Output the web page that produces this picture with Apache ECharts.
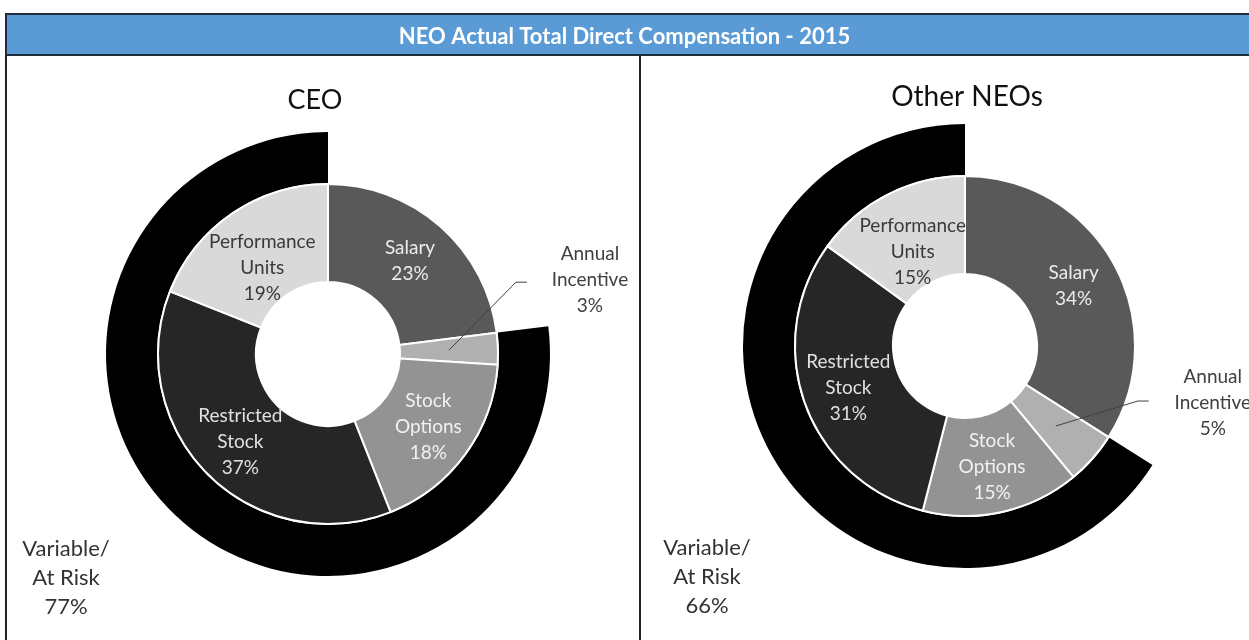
<!DOCTYPE html>
<html>
<head>
<meta charset="utf-8">
<script src="https://cdn.jsdelivr.net/npm/echarts@6/dist/echarts.min.js"></script>
<style>
  html, body { margin: 0; padding: 0; background: #fff; }
  #chart { width: 1249px; height: 640px; }
</style>
</head>
<body>
<div id="chart"></div>
<script>
// categories (clockwise from 12 o'clock)
var categories = ['Salary', 'Annual Incentive', 'Stock Options', 'Restricted Stock', 'Performance Units'];
var catLabels = ['Salary', 'Annual\nIncentive', 'Stock\nOptions', 'Restricted\nStock', 'Performance\nUnits'];
var ceoValues = [23, 3, 18, 37, 19];
var neoValues = [34, 5, 15, 31, 15];
// fixed vs variable / at risk
var ceoFixed = 23, ceoVariable = 77;
var neoFixed = 34, neoVariable = 66;

var sliceColors = ['#595959', '#b0b0b0', '#939393', '#262626', '#d9d9d9'];
var labelColors = ['#ececec', '#404040', '#f2f2f2', '#e0e0e0', '#3a3a3a'];
var font = 'Lato, "Open Sans", sans-serif';

var myChart = echarts.init(document.getElementById('chart'));

function innerData(values) {
    return values.map(function (v, i) {
        return {
            name: categories[i],
            value: v,
            itemStyle: {color: sliceColors[i]},
            label: {show: i !== 1, color: labelColors[i], offset: i === 4 ? [4, 16] : [0, 0]}
        };
    });
}

function ringData(fixed, variable) {
    return [
        {name: 'Fixed', value: fixed, itemStyle: {color: 'rgba(0,0,0,0)'}},
        {name: 'Variable/At Risk', value: variable, itemStyle: {color: '#000'}}
    ];
}

// transparent copy used only to hang the Annual Incentive callout from the middle of its slice
function calloutSeries(values, center, off) {
    return {
        type: 'pie',
        z: 5,
        silent: true,
        center: center,
        radius: [0, 121],
        startAngle: 90,
        avoidLabelOverlap: false,
        itemStyle: {color: 'rgba(0,0,0,0)', borderWidth: 0},
        label: {show: false},
        labelLine: {show: false},
        data: values.map(function (v, i) {
            return {
                name: categories[i],
                value: v,
                label: {
                    show: i === 1,
                    position: 'outside',
                    formatter: catLabels[i] + '\n' + v + '%',
                    color: '#404040',
                    fontFamily: font,
                    fontSize: 19,
                    lineHeight: 26
                },
                labelLine: {show: i === 1, lineStyle: {color: '#404040', width: 1}}
            };
        }),
        labelLayout: function (p) {
            if (p.dataIndex !== 1) return {};
            var a = p.labelLinePoints[0];
            return {
                x: a[0] + off[0],
                y: a[1] + off[1],
                align: 'center',
                verticalAlign: 'middle',
                labelLinePoints: [a, [a[0] + off[2], a[1] + off[3]], [a[0] + off[2] + 11, a[1] + off[3]]]
            };
        }
    };
}

function donutSeries(values, center) {
    return {
        type: 'pie',
        z: 3,
        silent: true,
        center: center,
        radius: [72, 170],
        startAngle: 90,
        avoidLabelOverlap: false,
        itemStyle: {borderColor: '#fff', borderWidth: 2},
        label: {
            position: 'inside',
            fontFamily: font,
            fontSize: 19,
            lineHeight: 26,
            formatter: function (p) {
                return catLabels[p.dataIndex] + '\n' + p.value + '%';
            }
        },
        labelLine: {show: false},
        data: innerData(values)
    };
}

function ringSeries(fixed, variable, center) {
    return {
        type: 'pie',
        z: 1,
        silent: true,
        center: center,
        radius: [171, 222],
        startAngle: 90,
        label: {show: false},
        labelLine: {show: false},
        itemStyle: {borderWidth: 0},
        data: ringData(fixed, variable)
    };
}

var ceoCenter = [328, 354];
var neoCenter = [965, 346];

option = {
    backgroundColor: '#fff',
    animation: false,
    title: {
        text: 'NEO Actual Total Direct Compensation - 2015',
        left: 'center',
        top: 21,
        textStyle: {color: '#fff', fontFamily: font, fontSize: 22, fontWeight: 'bold'}
    },
    graphic: [
        {type: 'rect', z: -1, shape: {x: 6, y: 14, width: 1260, height: 41},
            style: {fill: '#5b9bd5', stroke: '#1f2d3d', lineWidth: 2}},
        {type: 'line', shape: {x1: 6, y1: 55, x2: 6, y2: 645}, style: {stroke: '#222', lineWidth: 2}},
        {type: 'line', shape: {x1: 640, y1: 55, x2: 640, y2: 645}, style: {stroke: '#222', lineWidth: 2}},
        {type: 'text', x: 315, y: 100, style: {text: 'CEO', align: 'center', verticalAlign: 'middle',
            fill: '#111', fontFamily: font, fontSize: 27}},
        {type: 'text', x: 967, y: 97, style: {text: 'Other NEOs', align: 'center', verticalAlign: 'middle',
            fill: '#111', fontFamily: font, fontSize: 28}},
        {type: 'text', x: 66, y: 578, style: {text: 'Variable/\nAt Risk\n' + ceoVariable + '%',
            align: 'center', verticalAlign: 'middle', fill: '#333', fontFamily: font, fontSize: 22, lineHeight: 29}},
        {type: 'text', x: 707, y: 577, style: {text: 'Variable/\nAt Risk\n' + neoVariable + '%',
            align: 'center', verticalAlign: 'middle', fill: '#333', fontFamily: font, fontSize: 22, lineHeight: 29}}
    ],
    series: [
        ringSeries(ceoFixed, ceoVariable, ceoCenter),
        donutSeries(ceoValues, ceoCenter),
        calloutSeries(ceoValues, ceoCenter, [141, -70, 67, -68]),
        ringSeries(neoFixed, neoVariable, neoCenter),
        donutSeries(neoValues, neoCenter),
        calloutSeries(neoValues, neoCenter, [157, -23, 82, -25])
    ]
};

myChart.setOption(option);
</script>
</body>
</html>
